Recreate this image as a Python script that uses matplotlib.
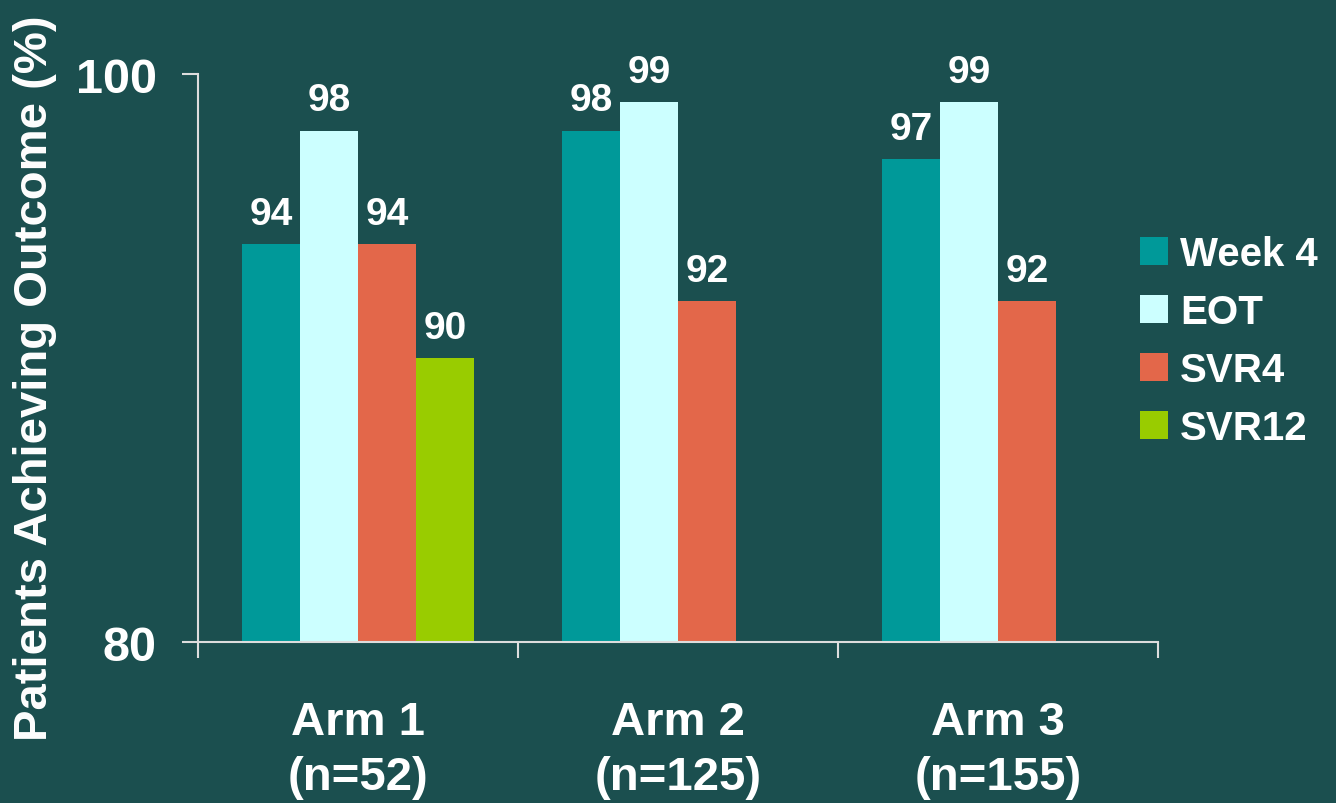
import numpy as np
import matplotlib
matplotlib.use("Agg")
import matplotlib.pyplot as plt

# data
arms = ["Arm 1\n(n=52)", "Arm 2\n(n=125)", "Arm 3\n(n=155)"]
series = ["Week 4", "EOT", "SVR4", "SVR12"]
week4 = [94, 98, 97]
eot = [98, 99, 99]
svr4 = [94, 92, 92]
svr12 = [90, np.nan, np.nan]
colors = ["#009999", "#CCFFFF", "#E3674A", "#99CC00"]

bg = "#1B4F4F"
plt.rcParams["font.family"] = ["Liberation Sans", "DejaVu Sans"]
plt.rcParams["font.weight"] = "bold"

fig = plt.figure(figsize=(13.36, 8.04), dpi=100, facecolor=bg)
ax = fig.add_axes([0.1482, 0.2002, 0.7186, 0.7065], facecolor=bg)

x = np.arange(len(arms))
w = 0.18125
for i, (name, vals) in enumerate(zip(series, [week4, eot, svr4, svr12])):
    bars = ax.bar(x + (i - 1.5) * w, vals, w, bottom=0, color=colors[i], label=name)
    labels = ["" if np.isnan(v) else f"{v:.0f}" for v in vals]
    ax.bar_label(bars, labels=labels, padding=9, color="white",
                 fontsize=28, fontweight="bold")

ax.set_xlim(-0.5, 2.5)
ax.set_ylim(80, 100)
ax.set_yticks([80, 100])
ax.set_xticks([-0.5, 0.5, 1.5, 2.5])
ax.set_xticklabels([])
ax.set_xticks(x, minor=True)
ax.set_xticklabels(arms, minor=True)
ax.tick_params(axis="x", which="minor", length=0, pad=42, labelsize=34,
               labelcolor="white")
ax.tick_params(axis="x", which="major", length=16 * 0.72, width=1.5,
               color="#DDDDDD", direction="out")
ax.tick_params(axis="y", length=16 * 0.72, width=1.5, color="#DDDDDD",
               pad=18, labelsize=35, labelcolor="white")
for lab in ax.get_xticklabels(minor=True):
    lab.set_linespacing(1.3)
for s in ["top", "right"]:
    ax.spines[s].set_visible(False)
for s in ["left", "bottom"]:
    ax.spines[s].set_color("#DDDDDD")
    ax.spines[s].set_linewidth(1.5)

fig.text(35 / 1336, 1 - 378 / 804, "Patients Achieving Outcome (%)",
         rotation=90, ha="center", va="center", color="white",
         fontsize=34, fontweight="bold")

leg = fig.legend(loc="center left", bbox_to_anchor=(1140 / 1336, 1 - 342 / 804),
                 frameon=False, fontsize=29, handlelength=0.7, handleheight=0.7,
                 handletextpad=0.3, labelspacing=0.5, borderpad=0,
                 borderaxespad=0)
for t in leg.get_texts():
    t.set_color("white")
    t.set_fontweight("bold")

fig.savefig("out.png", dpi=100, facecolor=bg)
